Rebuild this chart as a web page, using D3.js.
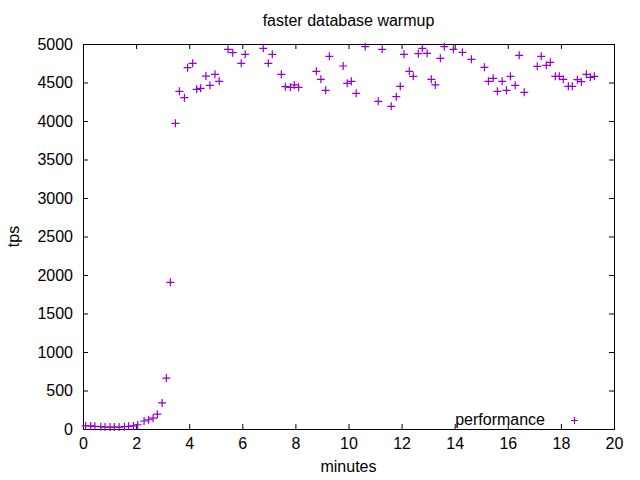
<!DOCTYPE html>
<html>
<head>
<meta charset="utf-8">
<script src="https://cdn.jsdelivr.net/npm/d3@7"></script>
<style>
  html, body { margin: 0; padding: 0; background: #fff; }
  svg { display: block; font-family: "Liberation Sans", Arial, sans-serif; }
</style>
</head>
<body>
<svg id="chart" width="640" height="480"></svg>
<script>
// ---- data ----
const minutes = [0.10,0.29,0.45,0.67,0.83,1.02,1.18,1.36,1.56,1.72,1.90,2.06,2.30,2.47,2.64,2.80,2.98,3.14,3.29,3.48,
  3.63,3.82,3.94,4.13,4.28,4.43,4.63,4.78,4.97,5.13,5.46,5.64,5.96,6.11,6.79,6.98,7.13,7.47,7.62,7.81,7.96,8.12,
  8.79,8.96,9.14,9.28,9.80,9.95,10.11,10.29,10.63,11.12,11.27,11.61,11.80,11.95,12.09,12.29,12.44,12.63,12.78,12.96,
  13.12,13.27,13.46,13.61,13.95,14.29,14.63,15.12,15.27,15.45,15.61,15.79,15.95,16.10,16.28,16.43,16.62,
  17.11,17.26,17.45,17.60,17.79,17.94,18.09,18.28,18.43,18.62,18.77,18.96,19.11,19.26];
const tps = [40,40,35,30,25,25,25,25,30,35,40,55,104,120,140,192,338,662,1905,3970,
  4385,4303,4693,4749,4411,4424,4584,4463,4606,4515,4931,4887,4749,4866,4944,4749,4866,4606,4446,4437,4468,4437,
  4645,4541,4398,4840,4714,4489,4515,4359,4965,4255,4931,4191,4316,4450,4866,4645,4580,4874,4944,4879,
  4541,4468,4814,4965,4931,4892,4801,4697,4515,4554,4385,4515,4398,4580,4463,4853,4372,
  4710,4840,4723,4762,4580,4580,4541,4450,4450,4537,4511,4606,4567,4580];
const xTicks = [0,2,4,6,8,10,12,14,16,18,20];
const yTicks = [0,500,1000,1500,2000,2500,3000,3500,4000,4500,5000];
const titleText = "faster database warmup";
const xLabel = "minutes";
const yLabel = "tps";
const seriesName = "performance";

// ---- layout ----
const L = 83, R = 614, T = 44, B = 429;
const color = "#9400d3";
const svg = d3.select("#chart");
const x = d3.scaleLinear().domain([0, 20]).range([L, R]);
const y = d3.scaleLinear().domain([0, 5000]).range([B, T]);
const fontSize = "16px";

// axes with inward ticks
const gx = svg.append("g").attr("transform", `translate(0,${B})`)
  .call(d3.axisBottom(x).tickValues(xTicks).tickFormat(d3.format("d")).tickSize(-5).tickPadding(9));
const gy = svg.append("g").attr("transform", `translate(${L},0)`)
  .call(d3.axisLeft(y).tickValues(yTicks).tickFormat(d3.format("d")).tickSize(-5).tickPadding(10));
const gxt = svg.append("g").attr("transform", `translate(0,${T})`)
  .call(d3.axisTop(x).tickValues(xTicks).tickFormat("").tickSize(-5));
const gyr = svg.append("g").attr("transform", `translate(${R},0)`)
  .call(d3.axisRight(y).tickValues(yTicks).tickFormat("").tickSize(-5));
[gx, gy, gxt, gyr].forEach(g => {
  g.select(".domain").remove();
  g.selectAll("line").attr("stroke", "#000").attr("stroke-width", 1);
  g.selectAll("text").attr("fill", "#000").style("font-size", fontSize)
    .style("font-family", '"Liberation Sans", Arial, sans-serif');
});

// border
svg.append("rect").attr("x", L + 0.5).attr("y", T + 0.5)
  .attr("width", R - L).attr("height", B - T)
  .attr("fill", "none").attr("stroke", "#000").attr("stroke-width", 1);

// title & labels
svg.append("text").attr("x", (L + R) / 2).attr("y", 26).attr("text-anchor", "middle")
  .style("font-size", fontSize).text(titleText);
svg.append("text").attr("x", (L + R) / 2).attr("y", 472).attr("text-anchor", "middle")
  .style("font-size", fontSize).text(xLabel);
svg.append("text").attr("transform", `translate(19,${(T + B) / 2}) rotate(-90)`)
  .attr("text-anchor", "middle").style("font-size", fontSize).text(yLabel);

// points
const plus = s => `M${-s},0H${s}M0,${-s}V${s}`;
const data = minutes.map((m, i) => ({ m, v: tps[i] }));
svg.append("g").selectAll("path").data(data).join("path")
  .attr("transform", d => `translate(${x(d.m)},${y(d.v)})`)
  .attr("d", plus(4))
  .attr("fill", "none").attr("stroke", color).attr("stroke-width", 1.2);

// legend
svg.append("text").attr("x", 545).attr("y", 425).attr("text-anchor", "end")
  .style("font-size", fontSize).text(seriesName);
svg.append("path").attr("transform", "translate(574.5,420.5)").attr("d", plus(3.5))
  .attr("fill", "none").attr("stroke", color).attr("stroke-width", 1.2);
</script>
</body>
</html>
